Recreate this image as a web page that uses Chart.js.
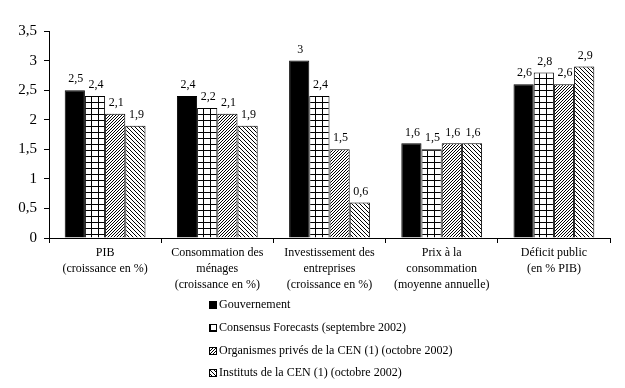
<!DOCTYPE html>
<html>
<head>
<meta charset="utf-8">
<script src="https://cdn.jsdelivr.net/npm/chart.js@4"></script>
<style>
html,body{margin:0;padding:0;background:#fff;}
#wrap{width:625px;height:388px;position:relative;}
</style>
</head>
<body>
<div id="wrap"><canvas id="c" width="625" height="388"></canvas></div>
<script>
const categories = [
  ["PIB", "(croissance en %)"],
  ["Consommation des", "ménages", "(croissance en %)"],
  ["Investissement des", "entreprises", "(croissance en %)"],
  ["Prix à la", "consommation", "(moyenne annuelle)"],
  ["Déficit public", "(en % PIB)"]
];
const seriesNames = [
  "Gouvernement",
  "Consensus Forecasts (septembre 2002)",
  "Organismes privés de la CEN (1) (octobre 2002)",
  "Instituts de la CEN (1) (octobre 2002)"
];
const gouvernement = [2.5, 2.4, 3, 1.6, 2.6];
const consensus = [2.4, 2.2, 2.4, 1.5, 2.8];
const organismes = [2.1, 2.1, 1.5, 1.6, 2.6];
const instituts = [1.9, 1.9, 0.6, 1.6, 2.9];
const yTicks = [0, 0.5, 1, 1.5, 2, 2.5, 3, 3.5];

const FONT = "'Liberation Serif', 'Times New Roman', serif";
const fmt = v => String(v).replace('.', ',');

const canvas = document.getElementById('c');
const ctx = canvas.getContext('2d');

function makePattern(kind) {
  const t = document.createElement('canvas');
  let w, h;
  if (kind === 'grid') { w = 7; h = 6; }
  else if (kind === 'fwd') { w = 3; h = 3; }
  else { w = 4; h = 4; }
  t.width = w; t.height = h;
  const g = t.getContext('2d');
  g.fillStyle = '#fff'; g.fillRect(0, 0, w, h);
  g.fillStyle = '#000';
  if (kind === 'grid') {
    g.fillRect(0, 0, w, 1);
    g.fillRect(0, 0, 1, h);
  } else if (kind === 'fwd') {
    for (let i = 0; i < w; i++) g.fillRect(i, h - 1 - i, 1, 1);
  } else {
    for (let i = 0; i < w; i++) g.fillRect(i, i, 1, 1);
  }
  return ctx.createPattern(t, 'repeat');
}

const fills = ['#000', makePattern('grid'), makePattern('fwd'), makePattern('back')];
const seriesData = [gouvernement, consensus, organismes, instituts];

const dataLabels = {
  id: 'dataLabels',
  afterDatasetsDraw(chart) {
    const c = chart.ctx;
    c.save();
    c.font = '12px ' + FONT;
    c.fillStyle = '#000';
    c.textAlign = 'center';
    c.textBaseline = 'bottom';
    chart.data.datasets.forEach((ds, di) => {
      chart.getDatasetMeta(di).data.forEach((bar, i) => {
        c.fillText(fmt(ds.data[i]), bar.x + 1, bar.y - 5);
      });
    });
    c.restore();
  }
};

const customLegend = {
  id: 'customLegend',
  afterDraw(chart) {
    const c = chart.ctx;
    c.save();
    c.font = '12px ' + FONT;
    c.textBaseline = 'middle';
    c.textAlign = 'left';
    const x0 = 209, ys = [305, 328, 351, 373];
    chart.data.datasets.forEach((ds, i) => {
      const y = ys[i];
      c.fillStyle = ds.backgroundColor;
      c.fillRect(x0, y - 4, 8, 8);
      c.strokeStyle = '#000';
      c.lineWidth = 1;
      c.strokeRect(x0 + 0.5, y - 3.5, 7, 7);
      c.fillStyle = '#000';
      c.fillText(ds.label, x0 + 10, y);
    });
    c.restore();
  }
};

new Chart(canvas, {
  type: 'bar',
  data: {
    labels: categories,
    datasets: seriesData.map((d, i) => ({
      label: seriesNames[i],
      data: d,
      backgroundColor: fills[i],
      borderColor: '#000',
      borderWidth: 1,
      borderSkipped: 'bottom',
      categoryPercentage: 0.72,
      barPercentage: 1
    }))
  },
  options: {
    responsive: false,
    animation: false,
    devicePixelRatio: 1,
    layout: { padding: { left: 0, right: 15, top: 31, bottom: 0 } },
    plugins: { legend: { display: false }, tooltip: { enabled: false } },
    scales: {
      x: {
        grid: { drawOnChartArea: false, color: '#000', tickLength: 5, offset: true },
        border: { color: '#000', width: 1 },
        ticks: { color: '#000', font: { family: FONT, size: 12, lineHeight: 1.33 }, padding: 2, maxRotation: 0, autoSkip: false },
        afterFit: s => { s.height = 150; }
      },
      y: {
        min: 0, max: 3.5,
        afterBuildTicks: s => { s.ticks = yTicks.map(v => ({ value: v })); },
        grid: { drawOnChartArea: false, color: '#000', tickLength: 5 },
        border: { color: '#000', width: 1 },
        ticks: { color: '#000', font: { family: FONT, size: 15 }, padding: 7, callback: v => fmt(v) },
        afterFit: s => { s.width = 49; }
      }
    }
  },
  plugins: [dataLabels, customLegend]
});
</script>
</body>
</html>
